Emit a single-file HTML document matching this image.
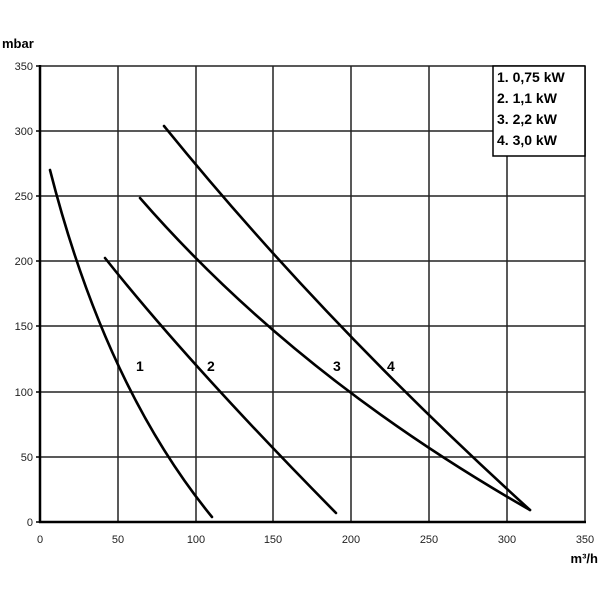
<!DOCTYPE html>
<html><head><style>body{margin:0;background:#fff}svg{display:block}</style></head><body>
<svg width="603" height="603" xmlns="http://www.w3.org/2000/svg" font-family="Liberation Sans, sans-serif">
<rect width="603" height="603" fill="#fff"/>
<g stroke="#222" stroke-width="1.5">
<line x1="118" y1="66" x2="118" y2="522"/><line x1="196" y1="66" x2="196" y2="522"/>
<line x1="273" y1="66" x2="273" y2="522"/><line x1="351" y1="66" x2="351" y2="522"/>
<line x1="429" y1="66" x2="429" y2="522"/><line x1="507" y1="66" x2="507" y2="522"/>
<line x1="585" y1="66" x2="585" y2="522"/>
<line x1="40" y1="66" x2="585" y2="66"/><line x1="40" y1="131" x2="585" y2="131"/>
<line x1="40" y1="196" x2="585" y2="196"/><line x1="40" y1="261" x2="585" y2="261"/>
<line x1="40" y1="326" x2="585" y2="326"/><line x1="40" y1="392" x2="585" y2="392"/>
<line x1="40" y1="457" x2="585" y2="457"/>
</g>
<g stroke="#000" stroke-width="2.5"><line x1="40" y1="65" x2="40" y2="523"/><line x1="39" y1="522" x2="586" y2="522"/></g>
<g stroke="#000" stroke-width="1.5">
<line x1="36" y1="66" x2="40" y2="66"/><line x1="36" y1="131" x2="40" y2="131"/><line x1="36" y1="196" x2="40" y2="196"/><line x1="36" y1="261" x2="40" y2="261"/><line x1="36" y1="326" x2="40" y2="326"/><line x1="36" y1="392" x2="40" y2="392"/><line x1="36" y1="457" x2="40" y2="457"/><line x1="36" y1="522" x2="40" y2="522"/>
</g>
<g font-size="11" text-anchor="end" fill="#222">
<text x="33" y="70">350</text><text x="33" y="135">300</text><text x="33" y="200">250</text><text x="33" y="265">200</text><text x="33" y="330">150</text><text x="33" y="396">100</text><text x="33" y="461">50</text><text x="33" y="526">0</text>
</g>
<g font-size="11" text-anchor="middle" fill="#222">
<text x="40" y="543">0</text><text x="118" y="543">50</text><text x="196" y="543">100</text><text x="273" y="543">150</text><text x="351" y="543">200</text><text x="429" y="543">250</text><text x="507" y="543">300</text><text x="585" y="543">350</text>
</g>
<text x="2" y="48" font-size="13" font-weight="bold">mbar</text>
<text x="598" y="563" font-size="13" font-weight="bold" text-anchor="end">m³/h</text>
<g fill="none" stroke="#000" stroke-width="2.6" stroke-linecap="round">
<path d="M50 170 Q105 386 212 517"/>
<path d="M105 258 Q189 364 336 513"/>
<path d="M140 198 Q295 376 530 510"/>
<path d="M164 126 Q323 322 530 510"/>
</g>
<g font-size="14" font-weight="bold">
<text x="136" y="371">1</text><text x="207" y="371">2</text><text x="333" y="371">3</text><text x="387" y="371">4</text>
</g>
<rect x="493" y="66" width="92" height="90" fill="#fff" stroke="#000" stroke-width="1.5"/>
<g font-size="14" font-weight="bold">
<text x="497" y="82">1. 0,75 kW</text><text x="497" y="103">2. 1,1 kW</text><text x="497" y="124">3. 2,2 kW</text><text x="497" y="145">4. 3,0 kW</text>
</g>
</svg>
</body></html>
